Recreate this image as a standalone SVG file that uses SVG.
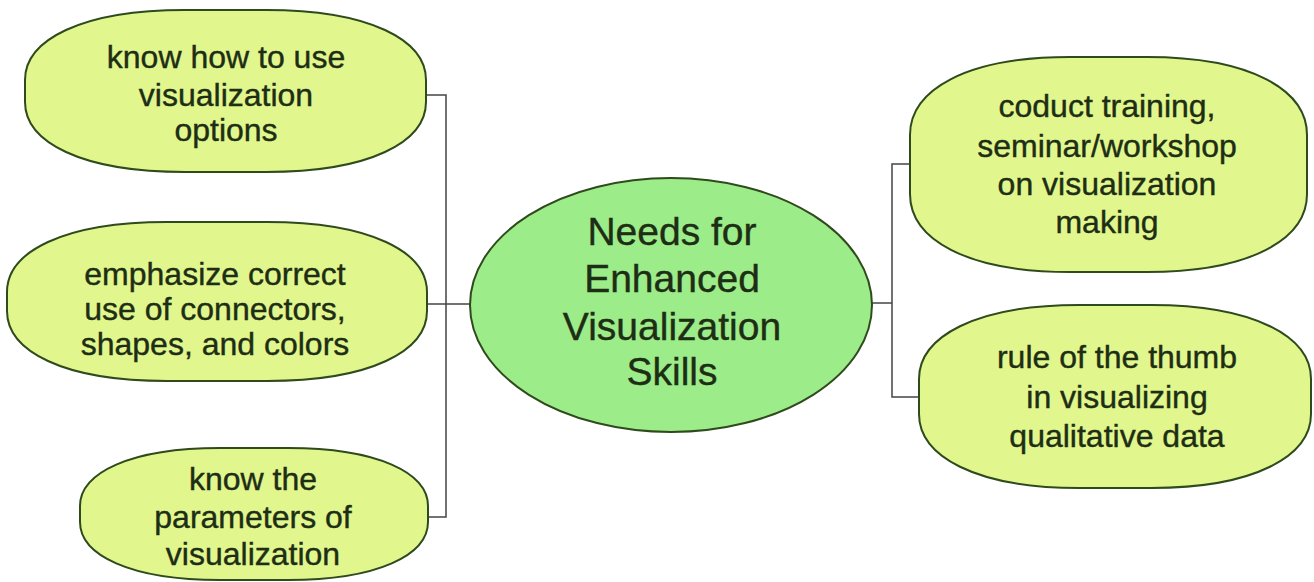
<svg xmlns="http://www.w3.org/2000/svg" width="1314" height="582" viewBox="0 0 1314 582">
<style>
.node{fill:#e2f68e;stroke:#2f4a1c;stroke-width:2}
.center{fill:#9cec8a;stroke:#2f4a1c;stroke-width:2}
.lbl{font-family:"Liberation Sans",Arial,sans-serif;font-size:32px;fill:#1d2e14;stroke:#1d2e14;stroke-width:0.4;text-anchor:middle}
.clbl{font-family:"Liberation Sans",Arial,sans-serif;font-size:39px;fill:#1d2e14;stroke:#1d2e14;stroke-width:0.4;text-anchor:middle}
.conn{fill:none;stroke:#444;stroke-width:1.5}
</style>
<rect width="1314" height="582" fill="#ffffff"/>
<g id="connectors">
<polyline class="conn" points="427,95 446,95 446,517 428,517"/>
<line class="conn" x1="427" y1="304" x2="471" y2="304"/>
<polyline class="conn" points="910,164 892,164 892,397 919,397"/>
<line class="conn" x1="871" y1="303" x2="892" y2="303"/>
</g>
<g id="n1">
<path class="node" d="M185,10 L266,10 C370,10 426,40 426,80 L426,102 C426,142 370,172 266,172 L185,172 C81,172 25,142 25,102 L25,80 C25,40 81,10 185,10 Z"/>
<text class="lbl" x="226" y="68">know how to use</text>
<text class="lbl" x="226" y="106">visualization</text>
<text class="lbl" x="226" y="141">options</text>
</g>
<g id="n2">
<path class="node" d="M167,222 L267,222 C371,222 427,252 427,292 L427,311 C427,351 371,381 267,381 L167,381 C63,381 7,351 7,311 L7,292 C7,252 63,222 167,222 Z"/>
<text class="lbl" x="215" y="285">emphasize correct</text>
<text class="lbl" x="215" y="320">use of connectors,</text>
<text class="lbl" x="215" y="355">shapes, and colors</text>
</g>
<g id="n3">
<path class="node" d="M220,448 L288,448 C378,448 428,473 428,506 L428,522 C428,555 378,580 288,580 L220,580 C130,580 80,555 80,522 L80,506 C80,473 130,448 220,448 Z"/>
<text class="lbl" x="253" y="490">know the</text>
<text class="lbl" x="253" y="528">parameters of</text>
<text class="lbl" x="253" y="565">visualization</text>
</g>
<g id="center">
<ellipse class="center" cx="671" cy="305" rx="201" ry="127"/>
<text class="clbl" x="672" y="245">Needs for</text>
<text class="clbl" x="672" y="292">Enhanced</text>
<text class="clbl" x="672" y="340">Visualization</text>
<text class="clbl" x="672" y="385">Skills</text>
</g>
<g id="n4">
<path class="node" d="M1070,57 L1147,57 C1251,57 1307,90 1307,135 L1307,194 C1307,239 1251,272 1147,272 L1070,272 C966,272 910,239 910,194 L910,135 C910,90 966,57 1070,57 Z"/>
<text class="lbl" x="1107" y="117">coduct training,</text>
<text class="lbl" x="1107" y="157">seminar/workshop</text>
<text class="lbl" x="1107" y="195">on visualization</text>
<text class="lbl" x="1107" y="233">making</text>
</g>
<g id="n5">
<path class="node" d="M1079,305 L1151,305 C1255,305 1311,337 1311,379 L1311,414 C1311,456 1255,488 1151,488 L1079,488 C975,488 919,456 919,414 L919,379 C919,337 975,305 1079,305 Z"/>
<text class="lbl" x="1117" y="368">rule of the thumb</text>
<text class="lbl" x="1117" y="408">in visualizing</text>
<text class="lbl" x="1117" y="447">qualitative data</text>
</g>
</svg>
